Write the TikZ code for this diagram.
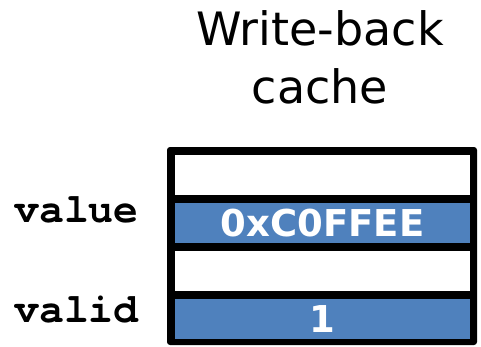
\documentclass[tikz,border=0pt]{standalone}
\usepackage{fontspec}
\newfontfamily\titlefont{DejaVu Sans}
\newfontfamily\cellfont{DejaVu Sans}[BoldFont={DejaVu Sans Bold}]
\newfontfamily\fieldfont{TeX Gyre Cursor}
\definecolor{cellblue}{HTML}{4F81BD}
\tikzset{
  title/.style={align=center, inner sep=0pt, font=\titlefont\fontsize{46bp}{58bp}\selectfont},
  emptycell/.style={fill=white, inner sep=0pt, minimum width=295bp, minimum height=40bp},
  datacell/.style={fill=cellblue, text=white, inner sep=0pt, minimum width=295bp, minimum height=40bp,
    font=\cellfont\bfseries\fontsize{37bp}{37bp}\selectfont},
  field/.style={anchor=base west, inner sep=0pt, font=\fieldfont\bfseries\fontsize{41.5bp}{41.5bp}\selectfont}
}
\begin{document}
\begin{tikzpicture}[x=1bp, y=-1bp]
  \useasboundingbox (0,0) rectangle (481,346);
  % heading (anchored on the baseline of its last line)
  \node[title, anchor=base] (head) at (320,103) {Write-back\\cache};
  % cache line frame
  \fill[black, rounded corners=3bp] (167,147) rectangle (477,345);
  % the four slots of the line
  \node[emptycell] (slot1) at (322.5,175) {};
  \node[datacell]  (value) at (322.5,223) {0xC0FFEE};
  \node[emptycell] (slot3) at (322.5,271) {};
  \node[datacell]  (valid) at (322.5,319) {1};
  % field names
  \node[field] (valuelabel) at (14,222) {value};
  \node[field] (validlabel) at (14,322) {valid};
\end{tikzpicture}
\end{document}
